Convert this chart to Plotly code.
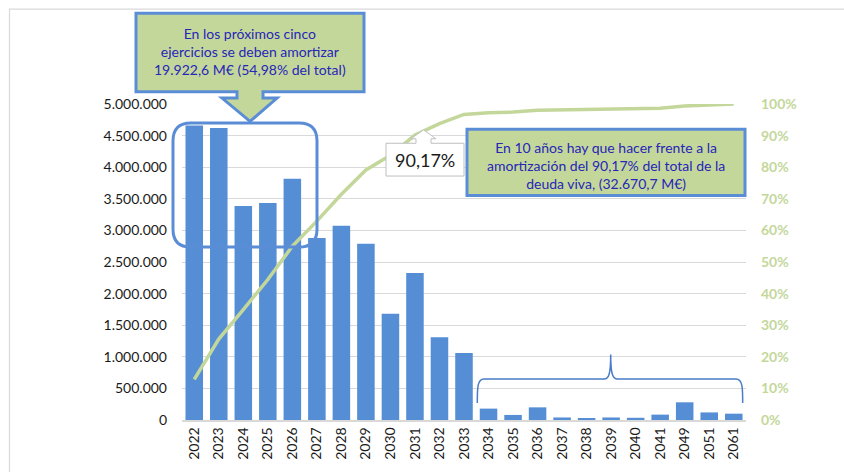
import numpy as np
import plotly.graph_objects as go

# Vencimientos de deuda por año (miles de euros)
years = ["2022", "2023", "2024", "2025", "2026", "2027", "2028", "2029", "2030",
         "2031", "2032", "2033", "2034", "2035", "2036", "2037", "2038", "2039",
         "2040", "2041", "2049", "2051", "2061"]
amounts = [4660000, 4621000, 3388000, 3435000, 3818600, 2880000, 3073000, 2790000,
           1680000, 2325100, 1310000, 1062000, 180000, 80000, 200000, 40000, 30000,
           40000, 35000, 85000, 280000, 120000, 100000]
left_ticks = [0, 500000, 1000000, 1500000, 2000000, 2500000, 3000000, 3500000,
              4000000, 4500000, 5000000]
right_ticks = [0, 0.1, 0.2, 0.3, 0.4, 0.5, 0.6, 0.7, 0.8, 0.9, 1.0]

callout_top = "En los próximos cinco<br>ejercicios se deben amortizar<br>19.922,6 M€ (54,98% del total)"
callout_right = "En 10 años hay que hacer frente a la<br>amortización del 90,17% del total de la<br>deuda viva, (32.670,7 M€)"
pct_label = "90,17%"

# porcentaje acumulado sobre el total de la deuda viva
cumulative = np.cumsum(amounts) / np.sum(amounts)

BAR = "#558ED5"
GREEN = "#C4D79B"
BORDER = "#5B8DD6"
TEXT_BLUE = "#2626B8"
FONT = "Lato"

W, H = 844, 472
ML, MR, MT, MB = 182, 98, 104, 50
PW, PH = W - ML - MR, H - MT - MB


def px(x):
    return (x - ML) / PW


def py(y):
    return (H - MB - y) / PH


def path(cmds):
    out = []
    for c in cmds:
        if isinstance(c, str):
            out.append(c)
        else:
            out.append(f"{px(c[0]):.5f},{py(c[1]):.5f}")
    return " ".join(out)


fig = go.Figure()
fig.add_trace(go.Bar(x=years, y=amounts, marker=dict(color=BAR, line=dict(width=0)),
                     yaxis="y", showlegend=False))
fig.add_trace(go.Scatter(x=years, y=cumulative, mode="lines", yaxis="y2",
                         line=dict(color=GREEN, width=3.5), showlegend=False))

shapes = []
# outer chart frame
shapes.append(dict(type="path", xref="paper", yref="paper", layer="above",
                   path=path(["M", (9.5, 480), "L", (9.5, 8.5), "L", (860, 8.5)]),
                   line=dict(color="#D9D9D9", width=1.2)))

# down-arrow callout
shapes.append(dict(type="path", xref="paper", yref="paper", layer="above",
                   path=path(["M", (136, 12.7), "L", (364, 12.7), "L", (364, 91.7),
                              "L", (263, 91.7), "L", (263, 98), "L", (277, 98),
                              "L", (250, 121.5), "L", (222, 98), "L", (237, 98),
                              "L", (237, 91.7), "L", (136, 91.7), "Z"]),
                   fillcolor=GREEN, line=dict(color=BORDER, width=3)))

# rounded frame over the first five years
x0, x1, y0, y1, r = 173, 317, 123, 248, 18
shapes.append(dict(type="path", xref="paper", yref="paper", layer="above",
                   path=path(["M", (x0 + r, y0), "L", (x1 - r, y0), "Q", (x1, y0), (x1, y0 + r),
                              "L", (x1, y1 - r), "Q", (x1, y1), (x1 - r, y1),
                              "L", (x0 + r, y1), "Q", (x0, y1), (x0, y1 - r),
                              "L", (x0, y0 + r), "Q", (x0, y0), (x0 + r, y0), "Z"]),
                   line=dict(color=BORDER, width=3)))

# percentage data callout
shapes.append(dict(type="path", xref="paper", yref="paper", layer="above",
                   path=path(["M", (386, 143.5), "L", (416, 143.5), "L", (416, 139),
                              "L", (411, 139), "L", (423.5, 130), "L", (436, 139),
                              "L", (431, 139), "L", (431, 143.5), "L", (464, 143.5),
                              "L", (464, 176.5), "L", (386, 176.5), "Z"]),
                   fillcolor="white", line=dict(color="#BFBFBF", width=1)))

# right callout box
shapes.append(dict(type="path", xref="paper", yref="paper", layer="above",
                   path=path(["M", (467, 129.5), "L", (745, 129.5), "L", (745, 196),
                              "L", (467, 196), "Z"]),
                   fillcolor=GREEN, line=dict(color=BORDER, width=3)))

# brace over the long-term maturities
shapes.append(dict(type="path", xref="paper", yref="paper", layer="above",
                   path=path(["M", (477.3, 405), "C", (477.3, 390), (477.3, 380.7), (484, 380.7),
                              "L", (604, 380.7), "C", (608.5, 380.7), (610.7, 377), (610.7, 356),
                              "C", (610.7, 377), (613, 380.7), (617.5, 380.7),
                              "L", (736, 380.7), "C", (742.7, 380.7), (742.7, 390), (742.7, 405)]),
                   line=dict(color="#4A7CC9", width=1.5)))

annotations = [
    dict(text=callout_top, x=px(250), y=py(51), xref="paper", yref="paper",
         showarrow=False, xanchor="center", yanchor="middle",
         font=dict(family=FONT, size=14, color=TEXT_BLUE)),
    dict(text=callout_right, x=px(606), y=py(165.5), xref="paper", yref="paper",
         showarrow=False, xanchor="center", yanchor="middle",
         font=dict(family=FONT, size=14, color=TEXT_BLUE)),
    dict(text=pct_label, x=px(425), y=py(160), xref="paper", yref="paper",
         showarrow=False, xanchor="center", yanchor="middle",
         font=dict(family=FONT, size=18, color="#1a1a1a")),
]

fig.update_layout(
    width=W, height=H,
    margin=dict(l=ML, r=MR, t=MT, b=MB, pad=0),
    paper_bgcolor="white", plot_bgcolor="white",
    separators=",.",
    bargap=0.285,
    font=dict(family=FONT, size=14, color="#1a1a1a"),
    xaxis=dict(type="category", tickangle=-90, showgrid=False, ticks="",
               showline=True, linecolor="#D9D9D9", linewidth=1.5,
               tickfont=dict(family=FONT, size=14, color="#1a1a1a")),
    yaxis=dict(range=[0, 5000000], tickvals=left_ticks, tickformat=",d",
               showgrid=True, gridcolor="#D9D9D9", gridwidth=1, zeroline=False,
               showline=False, ticks="", ticklabelstandoff=14,
               tickfont=dict(family=FONT, size=14, color="#1a1a1a")),
    yaxis2=dict(range=[0, 1], overlaying="y", side="right", tickvals=right_ticks,
                tickformat=".0%", showgrid=False, zeroline=False, showline=False,
                ticks="", ticklabelstandoff=14,
                tickfont=dict(family=FONT, size=14, color=GREEN, weight="bold")),
    shapes=shapes,
    annotations=annotations,
)

fig.write_html("out.html")
